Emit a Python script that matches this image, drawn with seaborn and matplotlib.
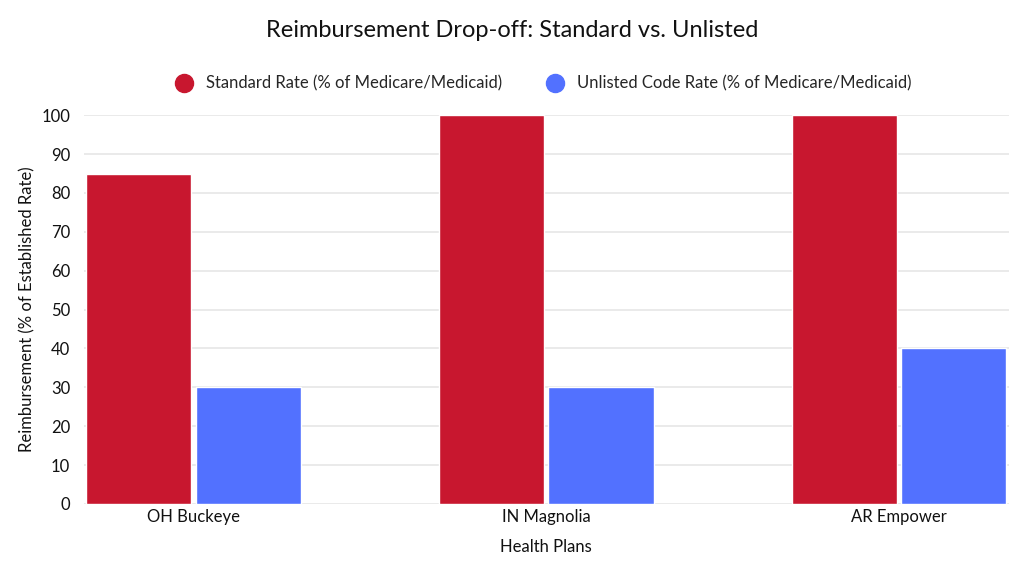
import pandas as pd
import matplotlib
matplotlib.use("Agg")
import matplotlib.pyplot as plt
import seaborn as sns
from matplotlib.lines import Line2D

# chart data
plans = ["OH Buckeye", "IN Magnolia", "AR Empower"]
standard_rate = [85, 100, 100]
unlisted_rate = [30, 30, 40]
series_names = ["Standard Rate (% of Medicare/Medicaid)",
                "Unlisted Code Rate (% of Medicare/Medicaid)"]
colors = ["#C8172F", "#5271FF"]

df = pd.DataFrame({
    "plan": plans * 2,
    "value": standard_rate + unlisted_rate,
    "series": [series_names[0]] * 3 + [series_names[1]] * 3,
})

sns.set_style("white")
plt.rcParams["font.family"] = ["Lato", "DejaVu Sans"]

fig = plt.figure(figsize=(10.24, 5.76), dpi=100)
ax = fig.add_axes([0.082, 0.125, 0.903, 0.675])

sns.barplot(data=df, x="plan", y="value", hue="series", palette=colors,
            width=0.62, gap=0.04, saturation=1, ax=ax, legend=False)

ax.set_xlim(-0.31, 2.31)
ax.set_ylim(0, 100)
ax.set_yticks(range(0, 101, 10))
ax.yaxis.grid(True, color="#e6e6e6", linewidth=1.2)
ax.set_axisbelow(True)
for s in ax.spines.values():
    s.set_visible(False)
ax.tick_params(axis="both", length=0, labelsize=12, colors="#111111")
ax.tick_params(axis="y", pad=10)
ax.set_xlabel("Health Plans", fontsize=12, color="#111111", labelpad=10)
ax.set_ylabel("Reimbursement (% of Established Rate)", fontsize=12, color="#111111", labelpad=4)

fig.suptitle("Reimbursement Drop-off: Standard vs. Unlisted", fontsize=17,
             y=0.965, x=0.5, color="#111111")

handles = [Line2D([], [], marker="o", linestyle="", markersize=13,
                  markerfacecolor=c, markeredgecolor=c) for c in colors]
fig.legend(handles, series_names, loc="center", bbox_to_anchor=(0.527, 0.855),
           ncol=2, frameon=False, fontsize=12, handletextpad=0.3, columnspacing=2.2)

fig.savefig("out.png", dpi=100)
